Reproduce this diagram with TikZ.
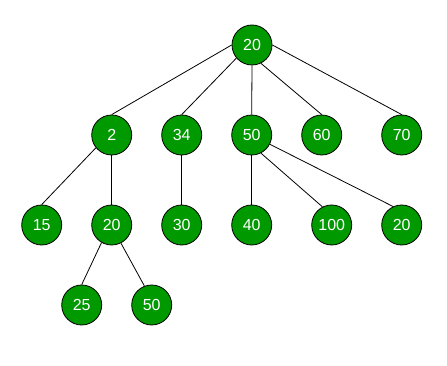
\documentclass[tikz,border=0pt]{standalone}
\usepackage{fontspec}
\setmainfont{Liberation Sans}
\definecolor{nodegreen}{HTML}{009900}
\begin{document}
\begin{tikzpicture}[x=1pt,y=-1pt,
  tnode/.style={circle,draw=black,line width=0.8pt,fill=nodegreen,text=white,
    minimum size=40pt,inner sep=0pt,font=\fontsize{16}{18}\selectfont},
  edge/.style={draw=black,line width=0.8pt}]
\useasboundingbox (0,0) rectangle (447,366);
\node[tnode] (r) at (252,45) {20};
\node[tnode] (a) at (111.7,135) {2};
\node[tnode] (b) at (181.7,135) {34};
\node[tnode] (c) at (251.7,135) {50};
\node[tnode] (d) at (321.7,135) {60};
\node[tnode] (e) at (401.7,135) {70};
\node[tnode] (a1) at (41.7,225) {15};
\node[tnode] (a2) at (111.7,225) {20};
\node[tnode] (b1) at (181.7,225) {30};
\node[tnode] (c1) at (251.7,225) {40};
\node[tnode] (c2) at (331.7,225) {100};
\node[tnode] (c3) at (401.7,225) {20};
\node[tnode] (a21) at (81.7,305) {25};
\node[tnode] (a22) at (151.7,305) {50};
\begin{scope}[on background layer/.try]
\end{scope}
\path[edge] (r.west) -- (a.north);
\path[edge] (r.-140) -- (b.north);
\path[edge] (r.south) -- (c.north);
\path[edge] (r.-64) -- (d.north);
\path[edge] (r.east) -- (e.north);
\path[edge] (a.-141) -- (a1.north);
\path[edge] (a.south) -- (a2.north);
\path[edge] (b.south) -- (b1.north);
\path[edge] (c.south) -- (c1.north);
\path[edge] (c.-63) -- (c2.117);
\path[edge] (c.-27) -- (c3.115);
\path[edge] (a2.-120) -- (a21.north);
\path[edge] (a2.-63) -- (a22.111);
\end{tikzpicture}
\end{document}
